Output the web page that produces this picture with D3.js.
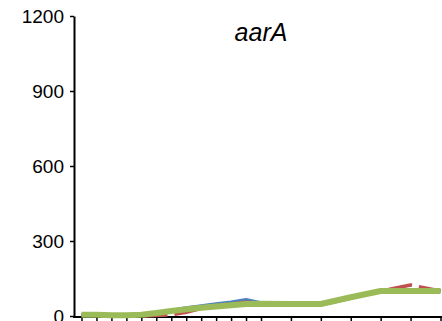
<!DOCTYPE html>
<html>
<head>
<meta charset="utf-8">
<script src="https://cdn.jsdelivr.net/npm/d3@7"></script>
<style>
  html, body { margin: 0; padding: 0; background: #fff; }
  svg { display: block; }
  text { font-family: "Liberation Sans", Arial, sans-serif; fill: #000; }
</style>
</head>
<body>
<svg id="chart" width="442" height="321"></svg>
<script>
// Sampling times (h) and expression levels for the three replicates
const times = [0, 1, 2, 3, 4, 5, 6, 7, 8, 9, 10, 11, 12, 14, 16, 18, 20, 22, 24];
const seriesBlue  = [5, 8, 3, 2, 4, 12, 22, 32, 40, 48, 55, 65, 52, 48, 45, 72, 100, 100, 100];
const seriesRed   = [3, 6, 4, 2, 0, 2, 5, 15, 30, 40, 48, 55, 50, 45, 44, 72, 100, 124, 100];
const seriesGreen = [5, 5, 3, 3, 5, 12, 20, 27, 33, 38, 43, 48, 49, 48, 48, 75, 100, 100, 100];
const yTicks = [0, 300, 600, 900, 1200];
const geneName = "aarA";

const svg = d3.select("#chart");

const x = d3.scaleLinear().domain([0, 24]).range([81.5, 440.5]);
const y = d3.scaleLinear().domain([0, 1200]).range([316, 16]);

// y axis
const yAxis = svg.append("g")
  .attr("transform", "translate(74,0)")
  .call(d3.axisLeft(y).tickValues(yTicks).tickFormat(d3.format("d"))
    .tickSize(4).tickSizeOuter(0).tickPadding(6));
yAxis.select(".domain").attr("stroke", "#000").attr("stroke-width", 2);
yAxis.selectAll(".tick line").attr("stroke", "#000").attr("stroke-width", 1.5);
yAxis.selectAll(".tick text").style("font-size", "19px").attr("dy", "0.36em");

// x axis (ticks only, no labels)
const xAxis = svg.append("g")
  .attr("transform", "translate(0,317)")
  .call(d3.axisBottom(x).tickValues(times).tickSize(4).tickSizeOuter(0).tickFormat(""));
xAxis.select(".domain").attr("d", "M73,0H442").attr("stroke", "#000").attr("stroke-width", 2);
xAxis.selectAll(".tick line").attr("stroke", "#000").attr("stroke-width", 1.5);

const line = d3.line()
  .x((d, i) => x(times[i]))
  .y(d => y(d));

const series = [
  { values: seriesBlue,  color: "#4F81BD", width: 3.5, dash: null },
  { values: seriesRed,   color: "#C0504D", width: 3.5, dash: "24,7" },
  { values: seriesGreen, color: "#9BBB59", width: 6,   dash: null }
];

svg.append("g").selectAll("path")
  .data(series)
  .join("path")
  .attr("d", d => line(d.values))
  .attr("fill", "none")
  .attr("stroke", d => d.color)
  .attr("stroke-width", d => d.width)
  .attr("stroke-dasharray", d => d.dash)
  .attr("stroke-linejoin", "round");

// gene title
svg.append("text")
  .attr("x", 261)
  .attr("y", 41)
  .attr("text-anchor", "middle")
  .style("font-size", "25px")
  .style("font-style", "italic")
  .text(geneName);
</script>
</body>
</html>
